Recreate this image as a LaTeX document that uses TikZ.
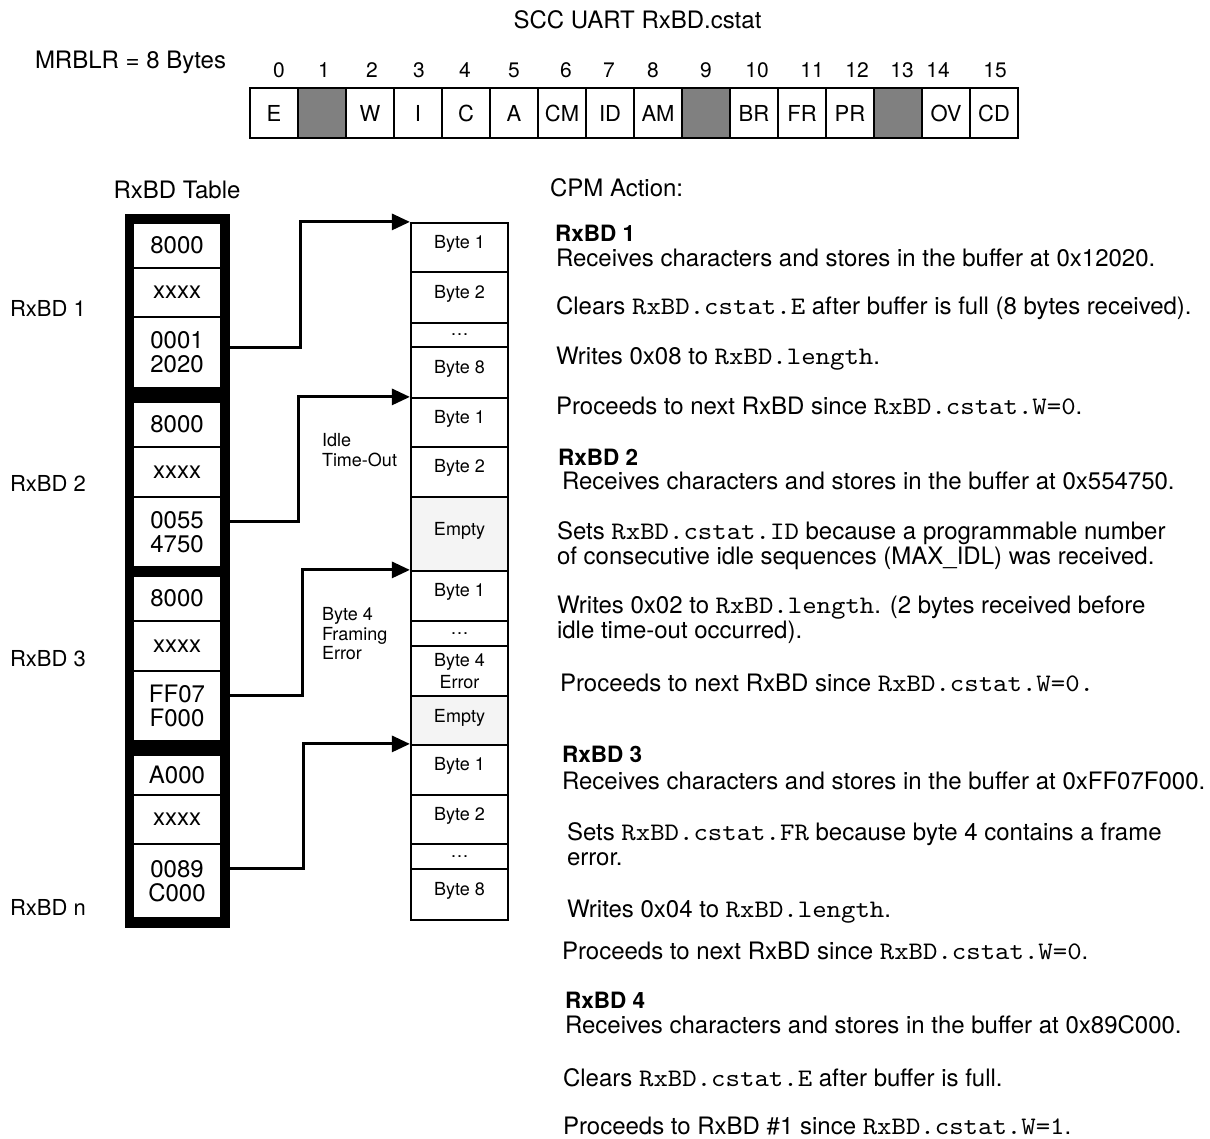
\documentclass[tikz,border=0pt]{standalone}
\usepackage{fontspec}
\setmainfont{TeX Gyre Heros}
\setmonofont{lmmono10-regular}[Extension=.otf, Scale=1.05, FakeStretch=1.09]
\usetikzlibrary{arrows.meta,calc}
\newcommand\fsz[2]{\fontsize{#1pt}{#2pt}\selectfont}
\definecolor{reggray}{HTML}{808080}
\definecolor{emptyfill}{HTML}{F4F4F4}
\tikzset{
  txt/.style={inner sep=0pt, outer sep=0pt},
  body/.style={txt, anchor=base west, font=\fsz{24}{25}},
  head/.style={txt, anchor=base west, font=\fsz{22.5}{25}\bfseries},
  bitnum/.style={txt, anchor=base, font=\fsz{21}{22}},
  regcell/.style={draw, line width=2pt, minimum width=48pt, minimum height=50pt, inner sep=0pt, font=\fsz{22}{24}},
  regres/.style={regcell, fill=reggray},
  tcell/.style={draw, fill=white, line width=2pt, minimum width=88pt, inner sep=0pt, font=\fsz{24}{24}, align=center},
  bcell/.style={draw, fill=white, line width=2.2pt, minimum width=97pt, inner sep=0pt, font=\fsz{18}{22}, align=center},
  bbyte/.style={bcell, text height=13pt, text depth=12pt},
  bempty/.style={bcell, fill=emptyfill, text height=13pt, text depth=10pt},
  note/.style={txt, anchor=west, align=left, font=\fsz{18}{19.5}},
  side/.style={txt, anchor=base west, font=\fsz{22}{24}},
  ptr/.style={line width=3pt, -{Triangle[length=18pt,width=16pt]}},
}
\begin{document}
\begin{tikzpicture}[x=1pt,y=-1pt]
\useasboundingbox (0,0) rectangle (1210,1138);
\fill[white] (0,0) rectangle (1210,1138);

% ---- header
\node[txt, anchor=base, font=\fsz{24}{25}] (title) at (637.5,28) {SCC UART RxBD.cstat};
\node[body] (mrblr) at (35,68) {MRBLR = 8 Bytes};

% ---- bit numbers
\node[bitnum] (n0) at (279,77) {0};
\node[bitnum] (n1) at (324,77) {1};
\node[bitnum] (n2) at (372,77) {2};
\node[bitnum] (n3) at (419,77) {3};
\node[bitnum] (n4) at (465,77) {4};
\node[bitnum] (n5) at (514,77) {5};
\node[bitnum] (n6) at (566,77) {6};
\node[bitnum] (n7) at (609,77) {7};
\node[bitnum] (n8) at (653,77) {8};
\node[bitnum] (n9) at (706,77) {9};
\node[bitnum] (n10) at (757,77) {10};
\node[bitnum] (n11) at (812,77) {11};
\node[bitnum] (n12) at (857,77) {12};
\node[bitnum] (n13) at (902,77) {13};
\node[bitnum] (n14) at (938,77) {14};
\node[bitnum] (n15) at (995,77) {15};

% ---- register cells
\node[regcell] (r0) at (274,113) {E};
\node[regres] (r1) at (322,113) {};
\node[regcell] (r2) at (370,113) {W};
\node[regcell] (r3) at (418,113) {I};
\node[regcell] (r4) at (466,113) {C};
\node[regcell] (r5) at (514,113) {A};
\node[regcell] (r6) at (562,113) {CM};
\node[regcell] (r7) at (610,113) {ID};
\node[regcell] (r8) at (658,113) {AM};
\node[regres] (r9) at (706,113) {};
\node[regcell] (r10) at (754,113) {BR};
\node[regcell] (r11) at (802,113) {FR};
\node[regcell] (r12) at (850,113) {PR};
\node[regres] (r13) at (898,113) {};
\node[regcell] (r14) at (946,113) {OV};
\node[regcell] (r15) at (994,113) {CD};

% ---- RxBD table
\node[txt, anchor=base, font=\fsz{24}{25}] (tbltitle) at (177,198) {RxBD Table};
\node[fill=black, inner sep=0pt, outer sep=0pt, minimum width=105pt, minimum height=714pt] (tbl) at (177.5,571) {};
\node[tcell, minimum height=45pt] (d1a) at (177,245.5) {8000};
\node[tcell, minimum height=49pt] (d1b) at (177,292.5) {xxxx};
\node[tcell, minimum height=71pt] (d1c) at (177,352.5) {0001\\2020};
\node[tcell, minimum height=45pt] (d2a) at (177,424.5) {8000};
\node[tcell, minimum height=50pt] (d2b) at (177,472) {xxxx};
\node[tcell, minimum height=70pt] (d2c) at (177,532) {0055\\4750};
\node[tcell, minimum height=45pt] (d3a) at (177,598.5) {8000};
\node[tcell, minimum height=50pt] (d3b) at (177,646) {xxxx};
\node[tcell, minimum height=70pt] (d3c) at (177,706) {FF07\\F000};
\node[tcell, minimum height=40pt] (d4a) at (177,775) {A000};
\node[tcell, minimum height=49pt] (d4b) at (177,819.5) {xxxx};
\node[tcell, minimum height=74pt] (d4c) at (177,881) {0089\\C000};

% ---- side labels
\node[side] (l1) at (10,316) {RxBD 1};
\node[side] (l2) at (10,491) {RxBD 2};
\node[side] (l3) at (10,666) {RxBD 3};
\node[side] (l4) at (10,915) {RxBD n};

% ---- buffers
\node[bbyte, minimum height=49pt] (b1) at (459.5,247.5) {Byte 1};
\node[bbyte, minimum height=51pt] (b2) at (459.5,297.5) {Byte 2};
\node[bcell, minimum height=24pt] (b3) at (459.5,335) {\ldots};
\node[bbyte, minimum height=51pt] (b4) at (459.5,372.5) {Byte 8};
\node[bbyte, minimum height=49pt] (b5) at (459.5,422.5) {Byte 1};
\node[bbyte, minimum height=50pt] (b6) at (459.5,472) {Byte 2};
\node[bempty, minimum height=74pt] (b7) at (459.5,534) {Empty};
\node[bbyte, minimum height=50pt] (b8) at (459.5,596) {Byte 1};
\node[bcell, minimum height=25pt] (b9) at (459.5,633.5) {\ldots};
\node[bcell, minimum height=50pt] (b10) at (459.5,671) {Byte 4\\Error};
\node[bempty, minimum height=49pt] (b11) at (459.5,720.5) {Empty};
\node[bbyte, minimum height=50pt] (b12) at (459.5,770) {Byte 1};
\node[bbyte, minimum height=49pt] (b13) at (459.5,819.5) {Byte 2};
\node[bcell, minimum height=25pt] (b14) at (459.5,856.5) {\ldots};
\node[bbyte, minimum height=51pt] (b15) at (459.5,894.5) {Byte 8};

% ---- notes
\node[note] (idle) at (322,450) {Idle\\Time-Out};
\node[note] (ferr) at (322,634) {Byte 4\\Framing\\Error};

% ---- pointer arrows
\draw[ptr] ($(d1c.east -| tbl.east)+(0,-5.5)$) -- ++(70,0) |- (b1.north west);
\draw[ptr] ($(d2c.east -| tbl.east)+(0,-11)$) -- ++(68,0) |- (b5.north west);
\draw[ptr] ($(d3c.east -| tbl.east)+(0,-11)$) -- ++(72,0) |- (b8.north west);
\draw[ptr] ($(d4c.east -| tbl.east)+(0,-13)$) -- ++(73,0) |- (b12.north west);

% ---- CPM action text
\node[body] (cpm) at (550,196) {CPM Action:};
\node[head] (h1) at (555,241) {RxBD 1};
\node[body] (t11) at (556,266) {Receives characters and stores in the buffer at 0x12020.};
\node[body] (t12) at (556,314) {Clears \texttt{RxBD.cstat.E} after buffer is full (8 bytes received).};
\node[body] (t13) at (556,364) {Writes 0x08 to \texttt{RxBD.length}.};
\node[body] (t14) at (556,414) {Proceeds to next RxBD since \texttt{RxBD.cstat.W=0}.};

\node[head] (h2) at (558,465) {RxBD 2};
\node[body] (t21) at (562,489) {Receives characters and stores in the buffer at 0x554750.};
\node[body] (t22) at (557,539) {Sets \texttt{RxBD.cstat.ID} because a programmable number};
\node[body] (t23) at (557,564) {of consecutive idle sequences (MAX\_IDL) was received.};
\node[body] (t24) at (557,613) {Writes 0x02 to \texttt{RxBD.length}. (2 bytes received before};
\node[body] (t25) at (557,638) {idle time-out occurred).};
\node[body] (t26) at (560,691) {Proceeds to next RxBD since \texttt{RxBD.cstat.W=0.}};

\node[head] (h3) at (562,762) {RxBD 3};
\node[body] (t31) at (562,789) {Receives characters and stores in the buffer at 0xFF07F000.};
\node[body] (t32) at (567,840) {Sets \texttt{RxBD.cstat.FR} because byte 4 contains a frame};
\node[body] (t33) at (567,865) {error.};
\node[body] (t34) at (567,917) {Writes 0x04 to \texttt{RxBD.length}.};
\node[body] (t35) at (562,959) {Proceeds to next RxBD since \texttt{RxBD.cstat.W=0}.};

\node[head] (h4) at (565,1008) {RxBD 4};
\node[body] (t41) at (565,1033) {Receives characters and stores in the buffer at 0x89C000.};
\node[body] (t42) at (563,1086) {Clears \texttt{RxBD.cstat.E} after buffer is full.};
\node[body] (t43) at (563,1134) {Proceeds to RxBD \#1 since \texttt{RxBD.cstat.W=1}.};
\end{tikzpicture}
\end{document}
